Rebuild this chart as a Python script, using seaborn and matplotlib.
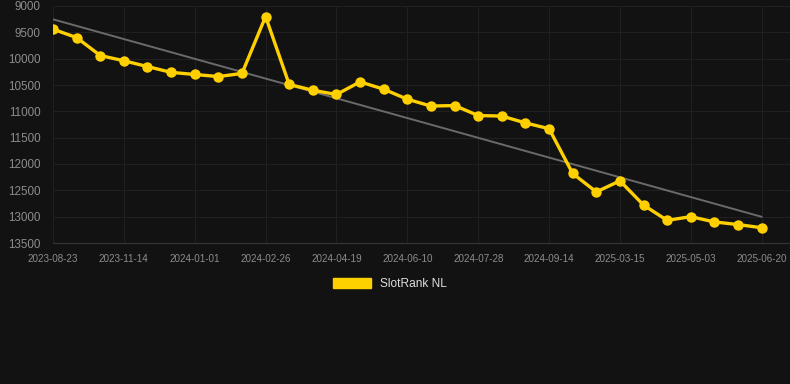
import numpy as np
import pandas as pd
import matplotlib
matplotlib.use("Agg")
import matplotlib.pyplot as plt
import seaborn as sns
from matplotlib.patches import Patch

# SlotRank NL rank over time (lower is better, axis inverted)
rank_nl = [9440, 9600, 9940, 10040, 10150, 10260, 10300, 10340, 10280, 9200,
           10490, 10600, 10680, 10440, 10580, 10770, 10900, 10890, 11080, 11090,
           11220, 11330, 12180, 12530, 12320, 12780, 13070, 13000, 13100, 13150,
           13210]
tick_labels = ["2023-08-23", "2023-11-14", "2024-01-01", "2024-02-26", "2024-04-19",
               "2024-06-10", "2024-07-28", "2024-09-14", "2025-03-15", "2025-05-03",
               "2025-06-20"]
y_ticks = [9000, 9500, 10000, 10500, 11000, 11500, 12000, 12500, 13000, 13500]

bg = "#121212"
yellow = "#FFD000"

sns.set_style("dark", {"axes.facecolor": bg, "figure.facecolor": bg})
plt.rcParams['font.family'] = ['Liberation Sans', 'DejaVu Sans']

df = pd.DataFrame({"idx": np.arange(len(rank_nl)), "rank": rank_nl})
coef = np.polyfit(df["idx"], df["rank"], 1)
df["trend"] = np.polyval(coef, df["idx"])

fig = plt.figure(figsize=(7.9, 3.84), dpi=100)
ax = fig.add_axes([53 / 790, 1 - 243 / 384, 1 - 53 / 790, (243 - 6) / 384])

sns.lineplot(data=df, x="idx", y="trend", ax=ax, color="#6a6a6a", linewidth=1.4)
sns.lineplot(data=df, x="idx", y="rank", ax=ax, color=yellow, linewidth=2.4,
             marker="o", markersize=7.5, markeredgewidth=0, markeredgecolor=yellow)

ax.set_xlim(0, 31.2)
ax.set_ylim(13500, 9000)
ax.set_yticks(y_ticks)
ax.set_yticklabels([str(v) for v in y_ticks], color="#8c8c8c", fontsize=8.4)
ax.set_xticks(np.arange(0, len(rank_nl), 3))
ax.set_xticklabels(tick_labels, color="#8c8c8c", fontsize=7.1)
ax.tick_params(axis="both", length=0)
ax.tick_params(axis="x", pad=8)
ax.tick_params(axis="y", pad=9)
ax.set_xlabel("")
ax.set_ylabel("")
ax.grid(True, color="#202020", linewidth=0.8)
for s in ["top", "right", "left"]:
    ax.spines[s].set_visible(False)
ax.spines["bottom"].set_color("#333333")
ax.spines["bottom"].set_linewidth(0.9)

fig.legend(handles=[Patch(facecolor=yellow, edgecolor=yellow, label="SlotRank NL")],
           loc="center", bbox_to_anchor=(390 / 790, 1 - 284 / 384), frameon=False,
           handlelength=3.2, handleheight=0.9, labelcolor="#dddddd", fontsize=8.6)

fig.savefig("out.png", dpi=100, facecolor=bg)
